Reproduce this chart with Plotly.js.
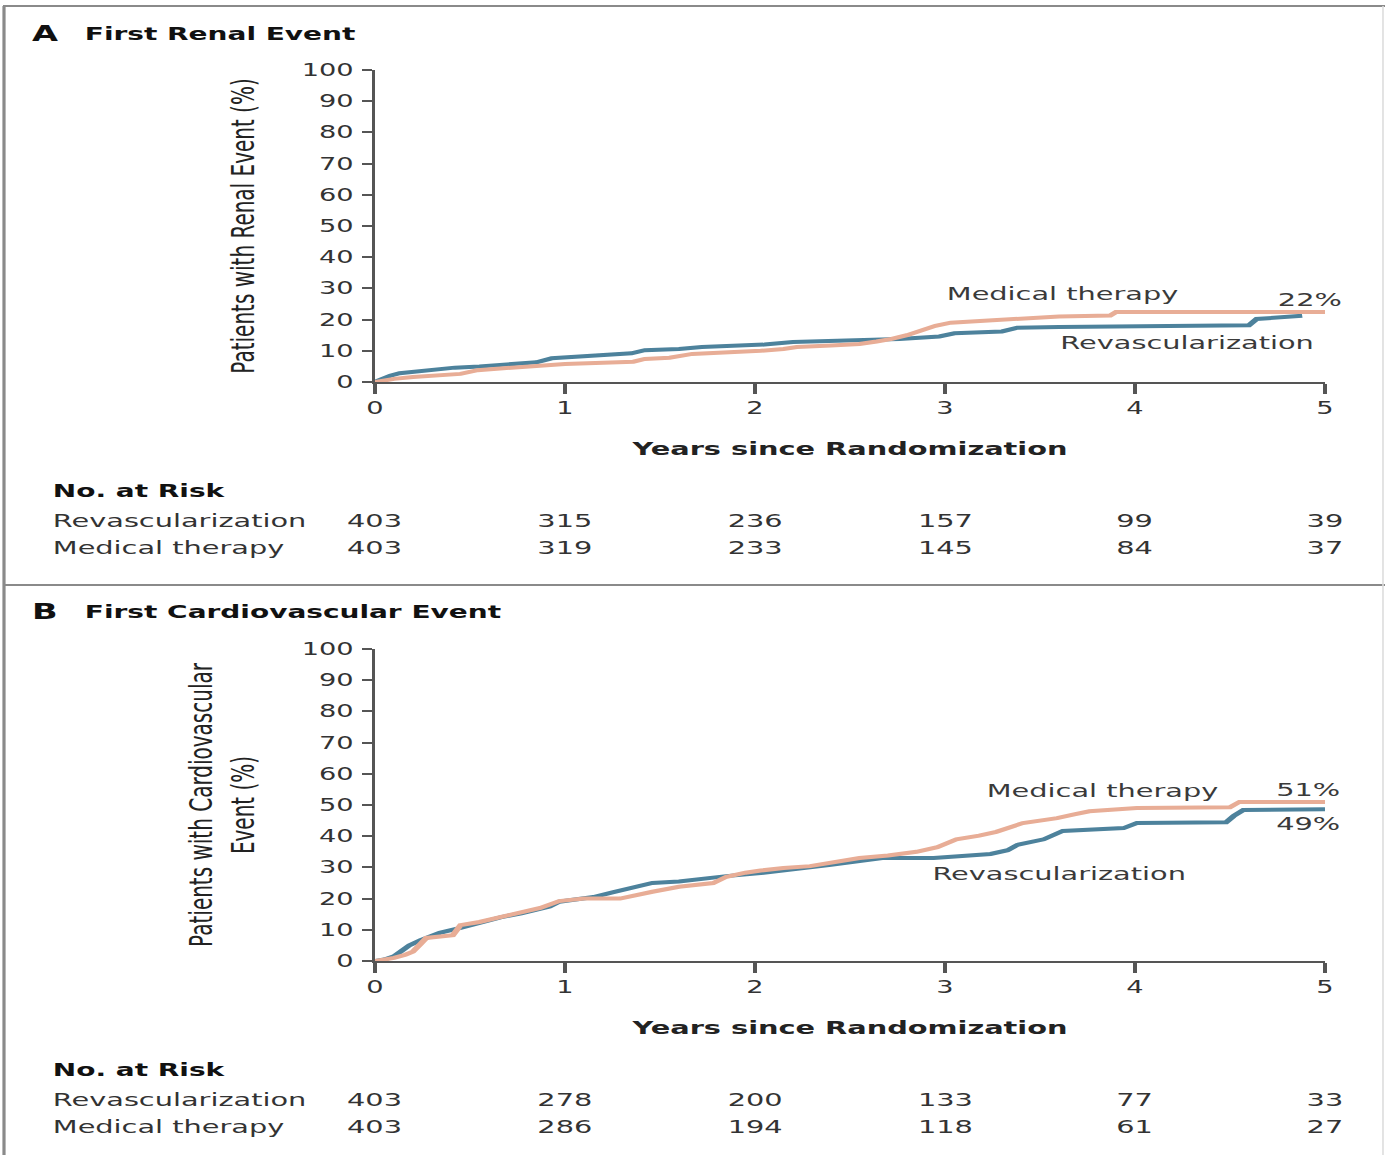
<!DOCTYPE html>
<html>
<head>
<meta charset="utf-8">
<script src="https://cdn.plot.ly/plotly-3.0.1.min.js"></script>
<style>
  html, body { margin: 0; padding: 0; background: #ffffff; overflow: hidden; }
  #plot { width: 866px; height: 1155px; transform: scaleX(1.5993); transform-origin: 0 0; }
</style>
</head>
<body>
<div id="plot"></div>
<script>
// ---------- Data ----------
const yearTicks = [0, 1, 2, 3, 4, 5];

// Panel A: First Renal Event (cumulative %)
const renalRevT = [0, 0.04, 0.08, 0.13, 0.2, 0.3, 0.42, 0.55, 0.7, 0.85, 0.93, 1.05, 1.2, 1.35, 1.42, 1.6, 1.72, 1.9, 2.05, 2.2, 2.4, 2.55, 2.76, 2.97, 3.05, 3.3, 3.38, 3.6, 4.0, 4.6, 4.64, 4.75, 4.88];
const renalRevV = [0, 1.0, 2.0, 2.8, 3.3, 3.9, 4.6, 5.0, 5.6, 6.3, 7.6, 8.0, 8.7, 9.2, 10.2, 10.6, 11.2, 11.5, 12.0, 12.8, 13.2, 13.6, 13.8, 14.6, 15.6, 16.2, 17.4, 17.6, 17.9, 18.2, 20.2, 20.8, 21.2];
const renalMedT = [0, 0.1, 0.2, 0.35, 0.45, 0.54, 0.65, 0.8, 0.9, 1.0, 1.2, 1.36, 1.42, 1.55, 1.67, 1.85, 2.03, 2.15, 2.22, 2.4, 2.55, 2.64, 2.72, 2.8, 2.87, 2.95, 3.03, 3.2, 3.38, 3.6, 3.87, 3.9, 4.5, 5.0];
const renalMedV = [0, 1.0, 1.6, 2.2, 2.6, 3.8, 4.3, 4.9, 5.5, 5.8, 6.2, 6.5, 7.4, 7.8, 9.0, 9.4, 10.0, 10.6, 11.2, 11.7, 12.2, 13.0, 13.8, 15.0, 16.5, 18.0, 19.0, 19.6, 20.5, 21.0, 21.3, 22.4, 22.4, 22.4];

// Panel B: First Cardiovascular Event (cumulative %)
const cvRevT = [0, 0.05, 0.1, 0.13, 0.18, 0.24, 0.3, 0.34, 0.45, 0.55, 0.66, 0.77, 0.87, 0.92, 0.97, 1.05, 1.15, 1.25, 1.32, 1.46, 1.6, 1.67, 1.85, 2.03, 2.15, 2.29, 2.4, 2.55, 2.67, 2.94, 3.03, 3.24, 3.33, 3.38, 3.52, 3.58, 3.62, 3.94, 4.01, 4.48, 4.52, 4.57, 5.0];
const cvRevV = [0, 0.5, 1.5, 3.0, 5.0, 6.7, 8.0, 9.0, 10.6, 12.3, 14.0, 15.3, 16.7, 17.5, 19.0, 19.8, 20.5, 22.0, 23.0, 25.0, 25.5, 26.0, 27.2, 28.2, 29.0, 30.0, 30.8, 32.0, 33.0, 33.0, 33.4, 34.3, 35.5, 37.2, 39.0, 40.5, 41.7, 42.6, 44.2, 44.5, 46.5, 48.4, 48.6];
const cvMedT = [0, 0.1, 0.16, 0.2, 0.24, 0.27, 0.41, 0.45, 0.55, 0.66, 0.8, 0.87, 0.97, 1.1, 1.29, 1.38, 1.46, 1.6, 1.78, 1.85, 1.95, 2.03, 2.15, 2.29, 2.45, 2.55, 2.7, 2.85, 2.96, 3.06, 3.18, 3.27, 3.41, 3.59, 3.68, 3.76, 4.01, 4.5, 4.55, 5.0];
const cvMedV = [0, 1.0, 2.0, 3.0, 5.5, 7.4, 8.3, 11.5, 12.5, 14.0, 15.8, 17.0, 19.2, 20.0, 20.0, 21.0, 22.2, 23.8, 25.0, 27.0, 28.3, 29.0, 29.8, 30.4, 32.0, 33.0, 33.8, 35.0, 36.5, 39.0, 40.2, 41.4, 44.2, 45.8, 47.0, 48.0, 49.0, 49.3, 51.0, 51.0];

// Numbers at risk
const riskRenalRev = [403, 315, 236, 157, 99, 39];
const riskRenalMed = [403, 319, 233, 145, 84, 37];
const riskCvRev = [403, 278, 200, 133, 77, 33];
const riskCvMed = [403, 286, 194, 118, 61, 27];

const groupNames = ['Revascularization', 'Medical therapy'];
const endLabelsRenal = ['22%'];
const endLabelsCv = ['51%', '49%'];

// ---------- Styles ----------
const FONT = 'DejaVu Sans, Verdana, sans-serif';
const TXT = '#333333';
const AXC = '#555555';
const BLUE = '#4d829c';
const ORANGE = '#e8ad96';

function lineTrace(x, y, color, name, xa, ya) {
  return { x: x, y: y, type: 'scatter', mode: 'lines', name: name,
           xaxis: xa, yaxis: ya, showlegend: false, hoverinfo: 'skip',
           line: { color: color, width: 4, shape: 'linear' } };
}

const data = [
  lineTrace(renalRevT, renalRevV, BLUE, groupNames[0], 'x', 'y'),
  lineTrace(renalMedT, renalMedV, ORANGE, groupNames[1], 'x', 'y'),
  lineTrace(cvRevT, cvRevV, BLUE, groupNames[0], 'x2', 'y2'),
  lineTrace(cvMedT, cvMedV, ORANGE, groupNames[1], 'x2', 'y2')
];

function xAxis(anchor) {
  return {
    domain: [375 / 1385, 1325 / 1385], range: [0, 5], anchor: anchor,
    tickvals: yearTicks, ticktext: yearTicks.map(String),
    ticks: 'outside', ticklen: 10, tickwidth: 2, tickcolor: AXC,
    showline: true, linecolor: AXC, linewidth: 2,
    showgrid: false, zeroline: false,
    tickfont: { family: FONT, size: 17, color: TXT },
    title: { text: '<b>Years since Randomization</b>', standoff: 25,
             font: { family: FONT, size: 18, color: '#222' } }
  };
}
function yAxis(anchor, dom, title) {
  return {
    domain: dom, range: [0, 100], anchor: anchor,
    tickvals: [0, 10, 20, 30, 40, 50, 60, 70, 80, 90, 100],
    ticks: 'outside', ticklen: 6, tickwidth: 2, tickcolor: AXC,
    showline: true, linecolor: AXC, linewidth: 2,
    showgrid: false, zeroline: false,
    ticklabelstandoff: 2,
    tickfont: { family: FONT, size: 17, color: TXT },
    title: { text: title, standoff: 24, font: { family: FONT, size: 20, color: '#222' } }
  };
}

const H = 1155, W = 1385;
const py = v => 1 - v / H;
const px = v => v / W;

const annotations = [];
function addText(text, x, y, opts) {
  annotations.push(Object.assign({ text: text, x: x, y: y, xref: 'paper', yref: 'paper',
    showarrow: false, xanchor: 'left', yanchor: 'middle',
    font: { family: FONT, size: 18, color: TXT } }, opts || {}));
}

// Panel headers
const HEAD = { family: FONT, size: 17.5, color: '#111' };
addText('<b>A</b>', px(28), py(34), { font: { family: FONT, size: 21, color: '#111' } });
addText('<b>First Renal Event</b>', px(81), py(34), { font: HEAD });
addText('<b>B</b>', px(28), py(612), { font: { family: FONT, size: 21, color: '#111' } });
addText('<b>First Cardiovascular Event</b>', px(81), py(612), { font: HEAD });

// No. at risk tables
function riskTable(xref, yHead, yRev, yMed, revVals, medVals) {
  addText('<b>No. at Risk</b>', px(50), py(yHead), { font: { family: FONT, size: 17.5, color: '#111' } });
  addText(groupNames[0], px(50), py(yRev));
  addText(groupNames[1], px(50), py(yMed));
  yearTicks.forEach((t, i) => {
    addText(String(revVals[i]), t, py(yRev), { xref: xref, xanchor: 'center' });
    addText(String(medVals[i]), t, py(yMed), { xref: xref, xanchor: 'center' });
  });
}
riskTable('x', 491, 520, 547, riskRenalRev, riskRenalMed);
riskTable('x2', 1070, 1099, 1126, riskCvRev, riskCvMed);

// Curve labels (data coordinates)
function curveLabel(text, x, y, xa, ya, anchor) {
  annotations.push({ text: text, x: x, y: y, xref: xa, yref: ya, showarrow: false,
    xanchor: anchor || 'center', yanchor: 'middle',
    font: { family: FONT, size: 18, color: '#3a3a3a' } });
}
curveLabel(groupNames[1], 3.62, 28.5, 'x', 'y');
curveLabel(endLabelsRenal[0], 4.92, 26.5, 'x', 'y');
curveLabel(groupNames[0], 4.28, 12.5, 'x', 'y');
curveLabel(groupNames[1], 3.83, 54.8, 'x2', 'y2');
curveLabel(endLabelsCv[0], 4.91, 55.1, 'x2', 'y2');
curveLabel(endLabelsCv[1], 4.91, 44.2, 'x2', 'y2');
curveLabel(groupNames[0], 3.6, 28.2, 'x2', 'y2');

// Frame lines
const FR = '#8a8a8a';
const shapes = [
  { type: 'line', xref: 'paper', yref: 'paper', x0: px(3), x1: 1, y0: py(6), y1: py(6), line: { color: FR, width: 2 } },
  { type: 'line', xref: 'paper', yref: 'paper', x0: px(4), x1: px(4), y0: 0, y1: py(6), line: { color: FR, width: 2 } },
  { type: 'line', xref: 'paper', yref: 'paper', x0: px(3), x1: 1, y0: py(585), y1: py(585), line: { color: FR, width: 2 } },
  { type: 'line', xref: 'paper', yref: 'paper', x0: px(1383), x1: px(1383), y0: 0, y1: py(6), line: { color: '#dddddd', width: 1 } }
];

const layout = {
  width: 866, height: H,
  margin: { l: 0, r: 0, t: 0, b: 0 },
  paper_bgcolor: '#ffffff', plot_bgcolor: '#ffffff',
  showlegend: false,
  font: { family: FONT, color: TXT },
  xaxis: xAxis('y'),
  yaxis: yAxis('x', [1 - 382 / H, 1 - 70 / H], 'Patients with Renal Event (%)'),
  xaxis2: xAxis('y2'),
  yaxis2: yAxis('x2', [1 - 961 / H, 1 - 649 / H], 'Patients with Cardiovascular<br>Event (%)'),
  annotations: annotations,
  shapes: shapes
};

Plotly.newPlot('plot', data, layout, { staticPlot: true, displayModeBar: false });
</script>
</body>
</html>
